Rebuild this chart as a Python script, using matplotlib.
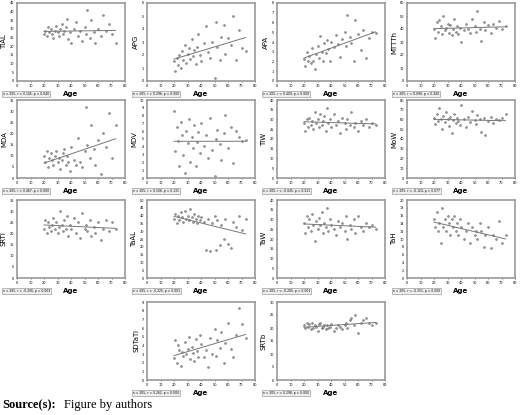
import matplotlib
matplotlib.use("Agg")
import matplotlib.pyplot as plt
import numpy as np

ages = [20,21,22,23,24,25,26,27,28,29,30,31,32,33,34,35,36,37,38,39,
        40,42,44,45,47,48,50,51,52,54,55,57,58,60,62,64,66,68,70,73]

tial = [27,29,26,31,28,30,27,25,29,32,28,26,30,33,27,29,31,36,24,28,22,30,34,26,29,23,31,27,41,25,35,28,22,30,26,38,29,33,27,22]
apg = [1.5,0.8,1.8,1.2,2.0,1.0,2.3,1.6,2.8,1.4,2.1,2.5,1.7,3.2,1.9,2.4,1.3,2.6,3.6,2.0,1.5,2.9,4.2,2.2,1.8,3.0,0.2,4.5,2.6,1.6,3.4,4.3,2.1,3.3,2.8,5.0,1.6,3.9,2.5,2.3]
apa = [2.3,1.5,3.0,2.0,2.6,1.8,3.4,2.1,1.2,2.8,3.6,2.4,4.6,3.0,2.0,3.9,2.9,4.2,3.3,2.0,4.0,3.5,4.7,3.8,2.5,4.3,5.0,3.6,6.8,4.5,3.9,2.1,6.3,4.8,3.2,5.2,2.4,4.4,5.0,4.9]
mttth = [40,33,45,38,47,42,36,50,39,41,44,37,43,35,40,48,38,42,36,41,30,39,44,40,37,48,42,38,54,40,31,45,39,43,37,44,41,46,40,42]
mda = [10,7,12,5,9,11,8,6,10,12,7,9,4,8,11,13,6,10,7,3,14,8,6,18,7,5,12,32,15,9,24,13,6,17,2,20,14,29,9,24]
mdv = [8.6,3.5,6.5,4.8,1.6,7.2,5.5,3.0,0.7,6.0,4.5,7.6,2.0,5.3,3.8,6.8,1.5,4.6,5.9,3.2,7.0,4.1,5.5,2.6,7.7,3.6,0.2,5.0,6.2,4.4,2.3,5.8,8.1,3.9,6.5,1.9,6.0,5.2,4.8,4.9]
tiw = [28,24,30,26,31,27,29,25,34,28,30,26,33,27,29,32,24,36,28,30,26,33,27,29,23,31,28,25,30,27,34,26,28,24,29,27,30,26,28,27]
mow = [62,55,66,58,72,60,50,64,57,68,61,53,63,46,59,66,56,62,58,54,75,60,52,63,57,69,59,55,65,60,47,62,44,58,63,56,61,59,62,66]
srti = [22,26,20,25,23,21,24,27,22,25,20,23,30,24,21,26,22,28,19,24,22,27,20,25,18,29,22,24,21,26,19,23,20,25,17,22,26,21,25,22]
taal = [38,41,35,40,37,42,39,36,43,38,40,37,44,39,36,41,38,35,40,37,39,36,18,38,17,35,40,18,37,21,34,25,38,22,19,36,33,40,31,38]
taw = [28,23,32,26,30,24,33,27,19,29,25,31,27,34,23,28,26,36,24,30,27,25,22,29,26,28,24,32,20,27,25,30,23,32,26,24,28,26,27,25]
tah = [15,13,17,12,14,9,18,13,15,12,16,14,11,15,13,16,12,14,11,15,13,10,12,14,9,13,11,12,10,14,12,8,11,13,7.8,11,10,14.5,9,11]
sdtati = [2.5,4.6,2.0,4.0,3.5,1.6,3.2,2.8,4.4,3.0,3.6,5.0,2.4,3.8,3.1,2.2,4.7,3.3,2.7,5.2,4.1,2.6,3.5,1.5,4.9,3.0,5.9,2.8,4.6,3.7,5.5,2.0,4.3,6.6,3.6,2.7,5.2,8.3,6.5,4.8]
srtb = [21,20,22,20.5,21.5,19.5,22,20,21,20.5,19,21.5,22,20,20.5,21,19.5,21,20,20.5,21.5,19,20,21,20.5,19.5,21,22,20,23,24,21,25,18,22,23,24,22,21,22]

# name, values, ymax, ystep, stats text
panels = [
    ("TIAL", tial, 45, 5, "n = 205, r = 0.145, p = 0.040"),
    ("APG", apg, 6, 1, "n = 205, r = 0.296, p = 0.000"),
    ("APA", apa, 8, 1, "n = 205, r = 0.409, p = 0.000"),
    ("MTTTh", mttth, 60, 10, "n = 205, r = 0.090, p = 0.200"),
    ("MDA", mda, 35, 5, "n = 205, r = 0.467, p = 0.000"),
    ("MDV", mdv, 10, 1, "n = 205, r = 0.106, p = 0.131"),
    ("TIW", tiw, 40, 5, "n = 205, r = -0.045, p = 0.521"),
    ("MoW", mow, 80, 10, "n = 205, r = -0.124, p = 0.077"),
    ("SRTI", srti, 35, 5, "n = 205, r = -0.206, p = 0.003"),
    ("TaAL", taal, 50, 5, "n = 205, r = -0.225, p = 0.001"),
    ("TaW", taw, 40, 5, "n = 205, r = -0.205, p = 0.003"),
    ("TaH", tah, 20, 2, "n = 205, r = -0.351, p = 0.000"),
    ("SDTaTi", sdtati, 9, 1, "n = 205, r = 0.262, p = 0.000"),
    ("SRTb", srtb, 30, 5, "n = 205, r = 0.298, p = 0.000"),
]

fig = plt.figure(figsize=(5.2, 4.15), dpi=100)
W, H = 520, 415
lefts = [17, 147, 277, 407]
tops = [3, 100, 200, 302]
slots = [(r, c) for r in range(3) for c in range(4)] + [(3, 1), (3, 2)]
x = np.array(ages)
for (name, vals, ymax, ystep, stat), (r, c) in zip(panels, slots):
    ax = fig.add_axes([lefts[c] / W, 1 - (tops[r] + 78) / H, 108 / W, 78 / H])
    ax.scatter(ages, vals, s=2, color="#999999", edgecolors="#555555", linewidths=0.3)
    k, b = np.polyfit(x, vals, 1)
    ax.plot([x.min(), x.max()], [k * x.min() + b, k * x.max() + b], color="#777777", lw=0.7)
    ax.set_xlim(0, 80)
    ax.set_ylim(0, ymax)
    ax.set_xticks(range(0, 81, 10))
    ax.set_yticks(np.arange(0, ymax + 0.01, ystep))
    ax.tick_params(labelsize=2.5, length=1, width=0.4, pad=1)
    for s in ax.spines.values():
        s.set_color("#999999")
        s.set_linewidth(1.2)
    ax.set_xlabel("Age", fontsize=5, fontweight="bold", labelpad=2)
    ax.set_ylabel(name, fontsize=5, labelpad=2)
    fig.text((lefts[c] - 14) / W, 1 - (tops[r] + 91) / H, stat, fontsize=2.2,
             va="center", bbox=dict(boxstyle="square,pad=0.3", fc="#eeeeee", ec="#888888", lw=0.4))

fig.text(2 / W, 1 - 405 / H, "Source(s):", fontsize=9, fontweight="bold",
         family="Liberation Serif", va="center")
fig.text(64 / W, 1 - 405 / H, "Figure by authors", fontsize=9,
         family="Liberation Serif", va="center")
fig.savefig("out.png", dpi=100)
